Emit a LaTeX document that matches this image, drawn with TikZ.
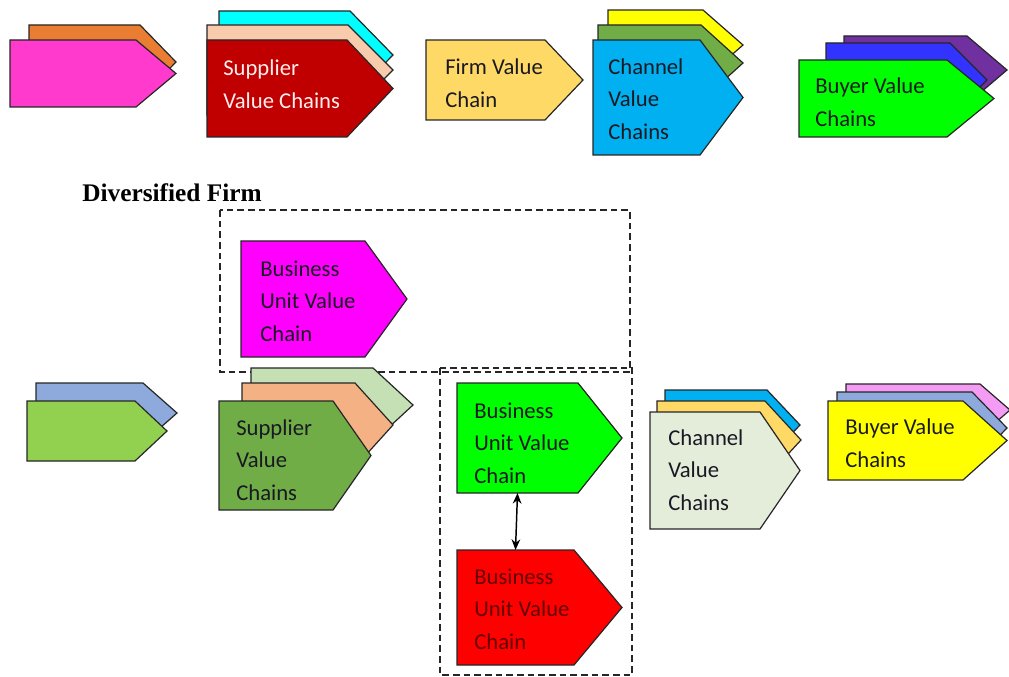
\documentclass[tikz,border=0pt]{standalone}
\usepackage{fontspec}
\setmainfont{Carlito}
\newfontfamily\headfont{Liberation Serif}
\usetikzlibrary{arrows.meta}
\definecolor{vcorange}{RGB}{233,125,49}
\definecolor{vcpink}{RGB}{255,58,204}
\definecolor{vccyan}{RGB}{0,255,255}
\definecolor{vcpeach}{RGB}{248,203,173}
\definecolor{vcdarkred}{RGB}{192,0,0}
\definecolor{vcgold}{RGB}{255,217,102}
\definecolor{vcyellow}{RGB}{255,255,0}
\definecolor{vcolive}{RGB}{112,173,71}
\definecolor{vcsky}{RGB}{0,176,240}
\definecolor{vcpurple}{RGB}{112,48,160}
\definecolor{vcroyal}{RGB}{51,51,255}
\definecolor{vclime}{RGB}{0,255,0}
\definecolor{vcmagenta}{RGB}{255,0,255}
\definecolor{vcgreyblue}{RGB}{142,169,219}
\definecolor{vcleaf}{RGB}{146,208,80}
\definecolor{vcpalegreen}{RGB}{197,224,180}
\definecolor{vcsalmon}{RGB}{244,177,131}
\definecolor{vcred}{RGB}{255,0,0}
\definecolor{vcpale}{RGB}{227,237,217}
\definecolor{vcviolet}{RGB}{244,156,244}
\definecolor{vcink}{RGB}{25,25,35}
\definecolor{vcwhite}{RGB}{255,236,236}
\definecolor{vcmaroon}{RGB}{100,0,0}

% name, left, top, bottom, tip, depth, fill
\newcommand{\vchain}[7]{%
  \filldraw[vcshape, fill=#7] (#2,#3) -- (#5-#6,#3) -- (#5,{(#3+#4)/2}) -- (#5-#6,#4) -- (#2,#4) -- cycle;
  \coordinate (#1-n) at ({(#2+#5-#6)/2},#3);
  \coordinate (#1-s) at ({(#2+#5-#6)/2},#4);
}

\begin{document}
\begin{tikzpicture}[x=0.75pt, y=-0.75pt, >={Stealth[length=8pt,width=6.5pt]}]
\tikzset{vcshape/.style={draw=black!85, line width=0.9pt, line join=miter},
  lbl/.style={font=\fontsize{17}{24.4}\selectfont, align=left, inner sep=0pt, anchor=west, text=vcink},
  unitbox/.style={draw=black!85, line width=0.9pt, dash pattern=on 5pt off 3pt}}
\useasboundingbox (0,0) rectangle (1009,677);
\draw[unitbox] (220,210) rectangle (630,372);
\draw[unitbox] (440,368) rectangle (632,675);
\vchain{o1}{29}{25}{99}{176}{36}{vcorange}
\vchain{o2}{10}{40}{107}{176}{40}{vcpink}
\vchain{s1}{219}{11}{99}{393}{43}{vccyan}
\vchain{s2}{207}{25}{115}{393}{45}{vcpeach}
\vchain{s3}{207}{40}{137}{393}{46}{vcdarkred}
\vchain{f1}{426}{40}{120}{583}{38}{vcgold}
\vchain{c1}{608}{10}{80}{743}{40}{vcyellow}
\vchain{c2}{598}{25}{101}{743}{42}{vcolive}
\vchain{c3}{593}{40}{155}{743}{43}{vcsky}
\vchain{b1}{844}{36}{104}{1007}{40}{vcpurple}
\vchain{b2}{826}{43}{117}{987}{37}{vcroyal}
\vchain{b3}{799}{60}{137}{994}{47}{vclime}
\vchain{bu1}{241}{241}{357}{407}{42}{vcmagenta}
\vchain{p1}{36}{383}{443}{177}{34}{vcgreyblue}
\vchain{p2}{27}{401}{461}{167}{32}{vcleaf}
\vchain{ls1}{251}{368}{442}{413}{40}{vcpalegreen}
\vchain{ls2}{242}{383}{467}{393}{38}{vcsalmon}
\vchain{ls3}{219}{401}{510}{371}{38}{vcolive}
\vchain{bu2}{457}{383}{493}{622}{44}{vclime}
\vchain{bu3}{457}{550}{665}{622}{48}{vcred}
\vchain{lc1}{665}{390}{460}{800}{33}{vcsky}
\vchain{lc2}{657}{401}{479}{801}{36}{vcgold}
\vchain{lc3}{650}{412}{529}{800}{40}{vcpale}
\vchain{lb1}{846}{384}{436}{1010}{30}{vcviolet}
\vchain{lb2}{837}{392}{464}{1007}{35}{vcgreyblue}
\vchain{lb3}{828}{401}{480}{1007}{44}{vcyellow}
\node[lbl, text=vcwhite] (supplier) at (223,84) {Supplier\\Value Chains};
\node[lbl] (firm) at (445,83) {Firm Value\\Chain};
\node[lbl] (channel) at (608,99) {Channel\\Value\\Chains};
\node[lbl] (buyer) at (815,102) {Buyer Value\\Chains};
\node[anchor=west, inner sep=0pt, font=\headfont\fontsize{19}{22}\selectfont\bfseries] (divfirm) at (82,193) {Diversified Firm};
\node[lbl] (unitA) at (260,301) {Business\\Unit Value\\Chain};
\node[lbl] (supplier2) at (236,460) {Supplier\\Value\\Chains};
\node[lbl] (unitB) at (474,443) {Business\\Unit Value\\Chain};
\node[lbl, text=vcmaroon] (unitC) at (474,609) {Business\\Unit Value\\Chain};
\node[lbl] (channel2) at (668,470) {Channel\\Value\\Chains};
\node[lbl] (buyer2) at (845,443) {Buyer Value\\Chains};
\draw[<->, line width=1.1pt] (bu2-s) -- (bu3-n);
\end{tikzpicture}
\end{document}
